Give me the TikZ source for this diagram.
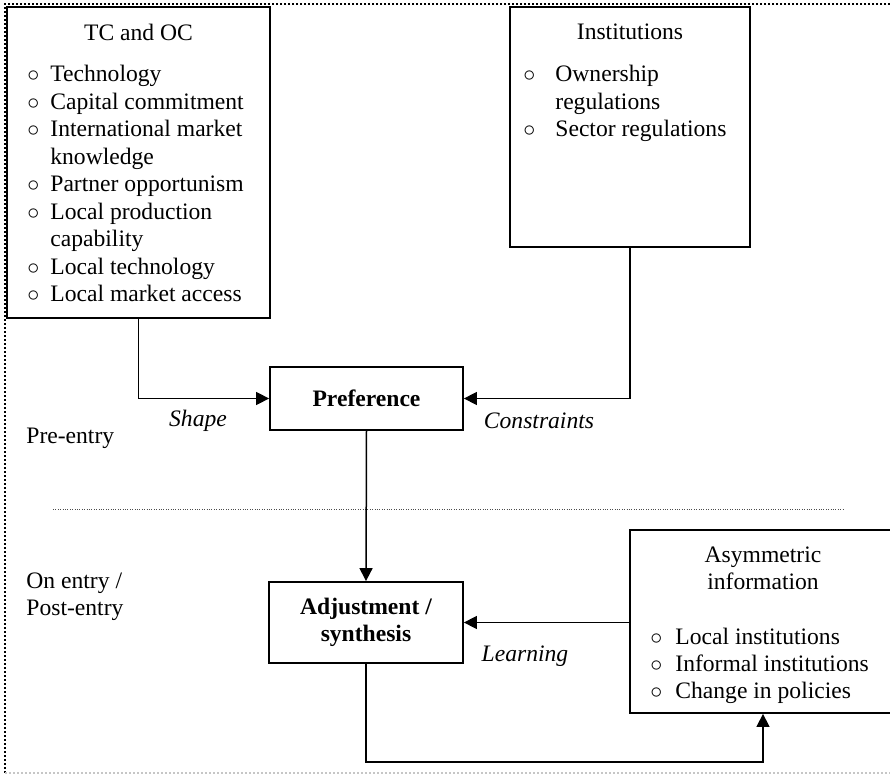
\documentclass[tikz,border=0pt]{standalone}
\usepackage{fontspec}
\setmainfont{Liberation Serif}
\usetikzlibrary{arrows.meta,positioning}
\newcommand{\basefont}{\fontsize{11.8}{13.75}\selectfont}
\newcommand{\bul}{$\circ$}
\newcommand{\bulletlist}[2][11.5pt]{\begin{tabular}[t]{@{}p{#1}@{}l@{}}#2\end{tabular}}
\begin{document}
\begin{tikzpicture}[x=0.5pt, y=-0.5pt, >={Triangle[length=6.5pt,width=6.5pt]}, font=\basefont,
    box/.style={draw, line width=0.9pt, inner sep=0pt},
    flow/.style={->, line width=0.75pt},
    lbl/.style={inner sep=0pt, font=\basefont\itshape},
    listtext/.style={inner sep=0pt, anchor=base west},
    frameline/.style={line width=0.8pt, dash pattern=on 1pt off 1pt}]

    % 外框
    \useasboundingbox (0,0) rectangle (890,775);
    \clip (0,0) rectangle (890,775);
    \draw[frameline] (890,4) -- (5,4) -- (5,773);
    \draw[frameline, gray!45] (5,773) -- (890,773);
    \draw[line width=0.5pt, dash pattern=on 0.4pt off 0.8pt, gray!60!black] (53,510) -- (843,510);

    % 上方两个方框
    \node[box, minimum width=131.5pt, minimum height=155.5pt] (tcoc) at (138.5,162.5) {};
    \node (tcoctitle) at (138.5,32) {TC and OC};
    \node[listtext] (tcoclist) at (27,82) {\bulletlist{%
        \bul & Technology\\
        \bul & Capital commitment\\
        \bul & International market\\
             & knowledge\\
        \bul & Partner opportunism\\
        \bul & Local production\\
             & capability\\
        \bul & Local technology\\
        \bul & Local market access}};

    \node[box, minimum width=120pt, minimum height=120pt] (inst) at (630,127) {};
    \node (insttitle) at (630,32) {Institutions};
    \node[listtext] (instlist) at (523,82) {\bulletlist[16pt]{%
        \bul & Ownership\\
             & regulations\\
        \bul & Sector regulations}};

    % 中间两个方框
    \node[box, minimum width=96.5pt, minimum height=31.5pt, font=\basefont\bfseries] (pref) at (366.5,398.5) {Preference};
    \node[box, minimum width=97pt, minimum height=40.5pt, align=center, font=\basefont\bfseries] (adj) at (366,622.5) {Adjustment /\\synthesis};

    % 右下方框
    \node[box, minimum width=133pt, minimum height=91.5pt] (asym) at (763,621.5) {};
    \node[align=center] (asymtitle) at (763,568.5) {Asymmetric\\information};
    \node[listtext] (asymlist) at (650,644) {\bulletlist[12.5pt]{%
        \bul & Local institutions\\
        \bul & Informal institutions\\
        \bul & Change in policies}};

    % 阶段说明
    \node[anchor=west, inner sep=0pt] (preentry) at (26,438) {Pre-entry};
    \node[anchor=west, inner sep=0pt, align=left] (postentry) at (26,596.5) {On entry /\\Post-entry};

    % 箭头
    \draw[flow] (tcoc.south) |- (pref.west);
    \draw[flow] (inst.south) |- (pref.east);
    \draw[flow] (pref.south) -- (adj.north);
    \draw[flow] (asym.west |- adj.east) -- (adj.east);
    \coordinate (loopbase) at (0,762);
    \draw[flow] (adj.south) |- (loopbase -| asym.south) -- (asym.south);

    \node[lbl] (shape) at (198,421) {Shape};
    \node[lbl] (constraints) at (539,421) {Constraints};
    \node[lbl] (learning) at (525,656) {Learning};
\end{tikzpicture}
\end{document}
